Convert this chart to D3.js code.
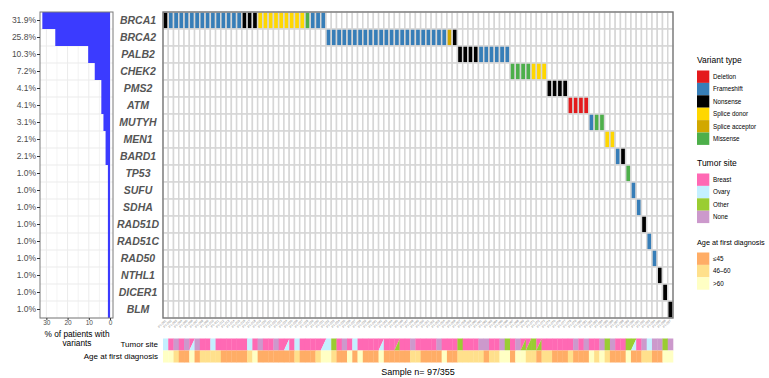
<!DOCTYPE html>
<html>
<head>
<meta charset="utf-8">
<script src="https://cdn.jsdelivr.net/npm/d3@7"></script>
<style>
  html, body { margin: 0; padding: 0; background: #fff; }
  svg { display: block; font-family: "Liberation Sans", Arial, sans-serif; }
</style>
</head>
<body>
<svg id="chart" width="769" height="378"></svg>
<script>
// Genes, ordered by frequency
const genes = ["BRCA1","BRCA2","PALB2","CHEK2","PMS2","ATM","MUTYH","MEN1","BARD1",
  "TP53","SUFU","SDHA","RAD51D","RAD51C","RAD50","NTHL1","DICER1","BLM"];
const pctValues = [31.9,25.8,10.3,7.2,4.1,4.1,3.1,2.1,2.1,1.0,1.0,1.0,1.0,1.0,1.0,1.0,1.0,1.0];
const pctTicks = [0,10,20,30];

// Variant calls per gene, left to right over consecutive samples
// D Deletion, F Frameshift, N Nonsense, S Splice donor, A Splice acceptor, M Missense
const geneVariants = [
  "NFFFFFFFFFFFFFFNNNSSSSSSSSSMFFF",
  "FFFFFFFFFFFFFFFFFFFFFFFAN",
  "NNNNFFFFFF",
  "MMMMSSS",
  "NNNN",
  "DDDD",
  "FMM",
  "SS",
  "FN",
  "M","F","F","N","F","F","N","N","N"
];
const variantCodes = ["D","F","N","S","A","M"];
const variantNames = ["Deletion","Frameshift","Nonsense","Splice donor","Splice acceptor","Missense"];
const variantColors = ["#e41a1c","#377eb8","#000000","#ffd700","#d1a800","#4daf4a"];

// Tumor site per sample (B Breast, O Ovary, T Other, X None; "a/b" = two sites)
const tumorSite = [
  "O","B","X","B","X","B/O","X","B","B","O",
  "B","B","B","B","B","B","O","B","X","B",
  "B","X","B","B/O","B","O","B","B","B","B",
  "B/O","O","T","B","X","B","O","B","B","B",
  "B","B/O","B","B","B/T","B","B","X","B","B",
  "B","B","X","B","B","B","T","B","B","B",
  "X","X","B","B","X","T","B","X","B/T","B/T",
  "T","B/T","B","B","B","B","B","B","X","B",
  "X","B","B","X","T","X","B","B","T","T/O",
  "B","X","O","X","X","T","X"
];
const siteCodes = ["B","O","T","X"];
const siteNames = ["Breast","Ovary","Other","None"];
const siteColors = ["#ff69b4","#c4f0ff","#9acd32","#cc99cc"];

// Age at first diagnosis per sample (Y ≤45, M 46-60, E >60)
const ageGroup = ("EEMYYEYMMM" + "MYYYYYMEYY" + "YYYYYMYYYM" + "EEMYYEYEYY" + "YEYYYYYMMY" +
  "YYYEYYMMMM" + "MYMMEEYEEM" + "MYMMYYYMYY" + "YEMEMYYYEY" + "YMMYYEE").split("");
const ageCodes = ["Y","M","E"];
const ageNames = ["≤45","46–60",">60"];
const ageColors = ["#ffad66","#ffe08c","#ffffc4"];

const sampleTotal = 355;

// ---- build sample table ----
const samples = [];
geneVariants.forEach((seq, gi) => {
  seq.split("").forEach(code => {
    samples.push({ gene: genes[gi], variant: code });
  });
});
samples.forEach((s, i) => {
  s.id = "PT-" + String(i + 1).padStart(3, "0");
  s.site = tumorSite[i];
  s.age = ageGroup[i];
});

const svg = d3.select("#chart");
const txt = "#4d4d4d";

// ---- scales ----
const y = d3.scaleBand().domain(genes).range([12, 318]);
const x = d3.scaleBand().domain(samples.map(s => s.id)).range([163, 673]);
const xPct = d3.scaleLinear().domain([33, -1.4]).range([40, 113]);
const variantColor = d3.scaleOrdinal(variantCodes, variantColors);
const siteColor = d3.scaleOrdinal(siteCodes, siteColors);
const ageColor = d3.scaleOrdinal(ageCodes, ageColors);

// ---- left panel: % of patients with variants ----
const left = svg.append("g");
left.append("rect").attr("x", 40).attr("y", 12).attr("width", 73).attr("height", 306).attr("fill", "#fff");
left.selectAll("line.vg").data([0,5,10,15,20,25,30]).join("line")
  .attr("x1", d => xPct(d)).attr("x2", d => xPct(d)).attr("y1", 12).attr("y2", 318)
  .attr("stroke", "#ebebeb").attr("stroke-width", d => d % 10 === 0 ? 1 : 0.6);
left.selectAll("line.hg").data(genes).join("line")
  .attr("x1", 40).attr("x2", 113)
  .attr("y1", d => y(d) + y.bandwidth()).attr("y2", d => y(d) + y.bandwidth())
  .attr("stroke", "#ebebeb").attr("stroke-width", 1);
left.selectAll("rect.bar").data(genes).join("rect")
  .attr("x", (d, i) => xPct(pctValues[i]))
  .attr("width", (d, i) => xPct(0) - xPct(pctValues[i]))
  .attr("y", d => y(d)).attr("height", y.bandwidth())
  .attr("fill", "#3b3bff");
left.append("rect").attr("x", 40).attr("y", 12).attr("width", 73).attr("height", 306)
  .attr("fill", "none").attr("stroke", "#7a7a7a").attr("stroke-width", 1);

// y axis labels (percentages)
const yAxis = d3.axisLeft(y).tickSize(3).tickPadding(1)
  .tickFormat((d, i) => pctValues[i].toFixed(1) + "%");
const gy = svg.append("g").attr("transform", "translate(40,0)").call(yAxis);
gy.select(".domain").remove();
gy.selectAll(".tick line").attr("stroke", "#333");
gy.selectAll(".tick text").attr("font-size", 8.5).attr("fill", txt).attr("font-family", null);

// x axis (reversed percent)
const xAxis = d3.axisBottom(xPct).tickValues(pctTicks).tickSize(2).tickPadding(0.5);
const gx = svg.append("g").attr("transform", "translate(0,318)").call(xAxis);
gx.select(".domain").remove();
gx.selectAll(".tick line").attr("stroke", "#333");
gx.selectAll(".tick text").attr("font-size", 6.5).attr("fill", txt).attr("font-family", null);
svg.append("text").attr("x", 77).attr("y", 336.5).attr("text-anchor", "middle")
  .attr("font-size", 8.3).attr("fill", "#000").text("% of patients with");
svg.append("text").attr("x", 77).attr("y", 345.5).attr("text-anchor", "middle")
  .attr("font-size", 8.3).attr("fill", "#000").text("variants");

// gene labels
svg.append("g").selectAll("text").data(genes).join("text")
  .attr("x", 138).attr("y", d => y(d) + y.bandwidth() / 2)
  .attr("dy", "0.35em").attr("text-anchor", "middle")
  .attr("font-size", 10.5).attr("font-weight", "bold").attr("font-style", "italic")
  .attr("fill", "#555").text(d => d);

// ---- main grid ----
const grid = svg.append("g");
const cells = [];
genes.forEach(g => samples.forEach(s => cells.push({ g, s })));
grid.selectAll("rect.cell").data(cells).join("rect")
  .attr("x", d => x(d.s.id)).attr("y", d => y(d.g))
  .attr("width", x.bandwidth()).attr("height", y.bandwidth())
  .attr("fill", d => d.s.gene === d.g ? variantColor(d.s.variant) : "#fff")
  .attr("stroke", "#d6d6d6").attr("stroke-width", 1.5);
grid.append("rect").attr("x", 163).attr("y", 12).attr("width", 510).attr("height", 306)
  .attr("fill", "none").attr("stroke", "#6e6e6e").attr("stroke-width", 1.2);

// sample ids
svg.append("g").selectAll("text").data(samples).join("text")
  .attr("transform", d => `translate(${x(d.id) + x.bandwidth() / 2 + 1},${321}) rotate(-45)`)
  .attr("text-anchor", "end").attr("font-size", 3.2).attr("fill", "#888").text(d => d.id);

// ---- annotation tracks ----
const trackTop = 338.5, trackH = 12;
function drawTrack(g, key, colorScale, y0) {
  samples.forEach(s => {
    const x0 = x(s.id), w = x.bandwidth() + 0.3;
    const parts = s[key].split("/");
    if (parts.length === 1) {
      g.append("rect").attr("x", x0).attr("y", y0).attr("width", w).attr("height", trackH)
        .attr("fill", colorScale(parts[0]));
    } else {
      g.append("path").attr("d", `M${x0},${y0}H${x0 + w}L${x0},${y0 + trackH}Z`).attr("fill", colorScale(parts[0]));
      g.append("path").attr("d", `M${x0 + w},${y0}V${y0 + trackH}H${x0}Z`).attr("fill", colorScale(parts[1]));
    }
  });
}
const tracks = svg.append("g");
drawTrack(tracks, "site", siteColor, trackTop);
drawTrack(tracks, "age", ageColor, trackTop + trackH);
svg.append("text").attr("x", 158).attr("y", trackTop + trackH / 2).attr("dy", "0.35em")
  .attr("text-anchor", "end").attr("font-size", 8).attr("fill", "#000").text("Tumor site");
svg.append("text").attr("x", 158).attr("y", trackTop + trackH * 1.5).attr("dy", "0.35em")
  .attr("text-anchor", "end").attr("font-size", 8).attr("fill", "#000").text("Age at first diagnosis");

svg.append("text").attr("x", 418).attr("y", 375).attr("text-anchor", "middle")
  .attr("font-size", 9).attr("fill", "#000").text(`Sample n= ${samples.length}/${sampleTotal}`);

// ---- legends ----
function legend(title, names, colors, top, titleSize) {
  const g = svg.append("g");
  g.append("text").attr("x", 697).attr("y", top).attr("font-size", titleSize).attr("fill", "#000").text(title);
  names.forEach((n, i) => {
    const yy = top + 7.5 + i * 12.4;
    g.append("rect").attr("x", 697).attr("y", yy).attr("width", 12.3).attr("height", 12.4).attr("fill", colors[i]);
    g.append("text").attr("x", 713).attr("y", yy + 6.2).attr("dy", "0.35em")
      .attr("font-size", 6.3).attr("fill", "#000").text(n);
  });
}
legend("Variant type", variantNames, variantColors, 63, 8.5);
legend("Tumor site", siteNames, siteColors, 166, 8.5);
legend("Age at first diagnosis", ageNames, ageColors, 245, 7.3);
</script>
</body>
</html>
